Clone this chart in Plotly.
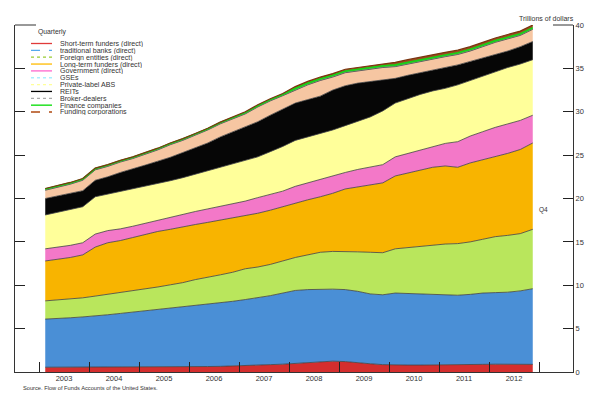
import plotly.graph_objects as go

# ---------------- data (trillions of dollars, quarterly) ----------------
quarters = [f"{y}Q{q}" for y in range(2003, 2013) for q in range(1, 5)]
year_labels = ["2003", "2004", "2005", "2006", "2007", "2008", "2009", "2010", "2011", "2012"]
y_ticks = [0, 5, 10, 15, 20, 25, 30, 35, 40]

short_term = [0.55, 0.55, 0.55, 0.55, 0.55, 0.55, 0.56, 0.57, 0.58, 0.60, 0.60, 0.60,
              0.62, 0.63, 0.65, 0.68, 0.72, 0.78, 0.85, 0.90, 1.00, 1.10, 1.20, 1.25,
              1.20, 1.05, 0.95, 0.85, 0.80, 0.80, 0.80, 0.80, 0.80, 0.82, 0.85, 0.88,
              0.90, 0.90, 0.88, 0.88]
banks = [5.55, 5.60, 5.70, 5.80, 5.90, 6.05, 6.19, 6.33, 6.52, 6.65, 6.80, 6.95,
         7.08, 7.22, 7.35, 7.47, 7.63, 7.77, 7.95, 8.20, 8.40, 8.40, 8.35, 8.30,
         8.30, 8.25, 8.05, 8.05, 8.30, 8.25, 8.20, 8.15, 8.10, 8.03, 8.10, 8.22,
         8.25, 8.30, 8.47, 8.72]
foreign = [2.10, 2.15, 2.15, 2.20, 2.30, 2.35, 2.40, 2.45, 2.50, 2.55, 2.65, 2.75,
           2.95, 3.05, 3.20, 3.35, 3.55, 3.55, 3.60, 3.70, 3.80, 4.00, 4.25, 4.35,
           4.40, 4.55, 4.80, 4.85, 5.10, 5.30, 5.50, 5.70, 5.85, 5.95, 6.05, 6.20,
           6.45, 6.55, 6.60, 6.85]
long_term = [4.60, 4.70, 4.80, 4.95, 5.65, 5.95, 6.00, 6.15, 6.25, 6.40, 6.40, 6.45,
             6.35, 6.35, 6.30, 6.30, 6.10, 6.20, 6.25, 6.25, 6.30, 6.35, 6.40, 6.70,
             7.20, 7.50, 7.80, 8.05, 8.40, 8.60, 8.80, 8.95, 9.00, 8.80, 9.10, 9.15,
             9.20, 9.45, 9.70, 9.95]
government = [1.40, 1.40, 1.40, 1.40, 1.50, 1.40, 1.35, 1.30, 1.30, 1.30, 1.40, 1.40,
              1.50, 1.55, 1.60, 1.60, 1.70, 1.80, 1.85, 1.80, 1.90, 1.95, 2.00, 2.05,
              1.90, 2.00, 2.05, 2.10, 2.20, 2.25, 2.30, 2.40, 2.60, 2.95, 3.10, 3.25,
              3.40, 3.40, 3.35, 3.20]
gses = [3.90, 4.00, 4.10, 4.15, 4.30, 4.20, 4.30, 4.30, 4.25, 4.20, 4.20, 4.25,
        4.30, 4.40, 4.50, 4.60, 4.70, 4.70, 4.90, 5.15, 5.30, 5.30, 5.30, 5.25,
        5.40, 5.55, 5.75, 6.20, 6.20, 6.30, 6.40, 6.40, 6.35, 6.55, 6.40, 6.40,
        6.40, 6.50, 6.50, 6.40]
private_abs = [1.90, 1.90, 1.90, 1.85, 1.90, 2.00, 2.20, 2.30, 2.45, 2.60, 2.70, 2.90,
               3.05, 3.20, 3.50, 3.70, 3.90, 4.05, 4.20, 4.30, 4.30, 4.30, 4.30, 4.60,
               4.60, 4.40, 4.10, 3.60, 2.85, 2.70, 2.50, 2.40, 2.40, 2.30, 2.20, 2.10,
               2.00, 1.90, 2.00, 2.10]
reits = [0.95, 1.00, 1.05, 1.20, 1.20, 1.20, 1.20, 1.20, 1.25, 1.30, 1.45, 1.40,
         1.45, 1.50, 1.50, 1.50, 1.45, 1.70, 1.65, 1.55, 1.50, 1.70, 1.80, 1.50,
         1.50, 1.40, 1.40, 1.40, 1.35, 1.30, 1.30, 1.30, 1.25, 1.20, 1.20, 1.30,
         1.40, 1.40, 1.30, 1.40]
broker = [0.05, 0.05, 0.05, 0.05, 0.05, 0.05, 0.05, 0.05, 0.05, 0.05, 0.05, 0.05,
          0.05, 0.05, 0.05, 0.05, 0.05, 0.05, 0.05, 0.05, 0.05, 0.05, 0.05, 0.05,
          0.05, 0.05, 0.05, 0.05, 0.05, 0.05, 0.05, 0.05, 0.05, 0.05, 0.05, 0.05,
          0.05, 0.05, 0.05, 0.05]
finance = [0.10, 0.10, 0.10, 0.10, 0.10, 0.10, 0.10, 0.10, 0.10, 0.10, 0.10, 0.10,
           0.10, 0.10, 0.10, 0.10, 0.10, 0.10, 0.10, 0.10, 0.15, 0.15, 0.15, 0.15,
           0.15, 0.15, 0.15, 0.15, 0.15, 0.15, 0.15, 0.15, 0.15, 0.15, 0.15, 0.15,
           0.15, 0.15, 0.15, 0.15]
funding = [0.05, 0.05, 0.05, 0.05, 0.05, 0.05, 0.05, 0.05, 0.05, 0.05, 0.05, 0.05,
           0.05, 0.05, 0.05, 0.05, 0.10, 0.10, 0.10, 0.10, 0.20, 0.20, 0.20, 0.20,
           0.20, 0.20, 0.20, 0.20, 0.30, 0.30, 0.30, 0.30, 0.30, 0.30, 0.30, 0.30,
           0.30, 0.30, 0.30, 0.30]

names = ["Short-term funders (direct)", "traditional banks (direct)", "Foreign entities (direct)",
         "Long-term funders (direct)", "Government (direct)", "GSEs", "Private-label ABS",
         "REITs", "Broker-dealers", "Finance companies", "Funding corporations"]
series = [short_term, banks, foreign, long_term, government, gses, private_abs,
          reits, broker, finance, funding]

# ---------------- styling ----------------
fill_colors = ["#d42e2e", "#4a8fd6", "#b9e65c", "#f8b400", "#f378c8", "#ffff9a",
               "#060606", "#f6c6a2", "#9a9a9a", "#1ee01e", "#9c4a1e"]
edge_colors = ["#404040"] * 8 + ["#707070", "#18d018", "#7a3510"]
edge_widths = [0.8] * 8 + [0.6, 1.6, 1.2]
leg_colors = ["#e03a3a", "#55aaee", "#99cc33", "#ffbb00", "#ff66cc", "#aaeeff",
              "#ffff99", "#000000", "#aaaaaa", "#00dd00", "#b04a10"]
leg_dash = ["solid", "dash", "dot", "solid", "solid", "dot", "dot", "solid", "dot", "solid", "dash"]

# page body adds an 8px margin; lay the figure out in reference pixel coordinates
OFF = 8
W, H = 600 - OFF, 397 - OFF
AX_L, AX_R, AX_T, AX_B = 15, 573, 25, 372          # axes box in reference pixels
L, T = AX_L - OFF, AX_T - OFF
R, B = (W + OFF) - AX_R, (H + OFF) - AX_B
PW, PH = AX_R - AX_L, AX_B - AX_T
FONT = "Liberation Sans, Arial, sans-serif"
TXT = "#333333"


def pxx(xp):
    return (xp - AX_L) / PW


def pxy(yp):
    return (AX_B - yp) / PH


x = [int(s[:4]) + (int(s[-1]) - 0.5) / 4 for s in quarters]
x_range = [2003 - 24 / 50, 2003 + 534 / 50]

fig = go.Figure()
for i, (nm, vals) in enumerate(zip(names, series)):
    fig.add_trace(go.Scatter(
        x=x, y=vals, name=nm, stackgroup="one", mode="lines",
        line=dict(color=edge_colors[i], width=edge_widths[i]),
        fillcolor=fill_colors[i], showlegend=False, hoverinfo="x+y+name"))

# helper (empty) traces so the overlay axes exist
fig.add_trace(go.Scatter(x=[], y=[], xaxis="x2", yaxis="y", showlegend=False))
fig.add_trace(go.Scatter(x=[], y=[], xaxis="x", yaxis="y2", showlegend=False))

shapes = []
annotations = []
# manual legend
for k, nm in enumerate(names):
    yp = 43.5 + 6.85 * k
    shapes.append(dict(type="line", xref="paper", yref="paper",
                       x0=pxx(31), x1=pxx(52), y0=pxy(yp), y1=pxy(yp),
                       line=dict(color=leg_colors[k], width=1.3, dash=leg_dash[k])))
    annotations.append(dict(text=nm, xref="paper", yref="paper", x=pxx(59), y=pxy(yp),
                            xanchor="left", yanchor="middle", showarrow=False,
                            height=7, borderpad=0,
                            font=dict(family=FONT, size=7.1, color=TXT)))

# longer top ticks on both vertical axes
shapes.append(dict(type="line", xref="paper", yref="paper", x0=0, x1=pxx(36), y0=1, y1=1,
                   line=dict(color="#333", width=1)))
shapes.append(dict(type="line", xref="paper", yref="paper", x0=pxx(553), x1=1, y0=1, y1=1,
                   line=dict(color="#333", width=1)))

annotations += [
    dict(text="Trillions of dollars", xref="paper", yref="paper", x=pxx(576), y=pxy(18),
         xanchor="right", yanchor="middle", showarrow=False,
         font=dict(family=FONT, size=7, color=TXT)),
    dict(text="Quarterly", xref="paper", yref="paper", x=pxx(36), y=pxy(32),
         xanchor="left", yanchor="middle", showarrow=False,
         font=dict(family=FONT, size=6.8, color=TXT)),
    dict(text="Q4", xref="paper", yref="paper", x=pxx(537), y=pxy(210),
         xanchor="left", yanchor="middle", showarrow=False,
         font=dict(family=FONT, size=6.5, color=TXT)),
    dict(text="Source. Flow of Funds Accounts of the United States.", xref="paper", yref="paper",
         x=pxx(21), y=pxy(388), xanchor="left", yanchor="middle", showarrow=False,
         font=dict(family=FONT, size=5.7, color=TXT)),
]

axis_common = dict(showgrid=False, zeroline=False, linecolor="#333333", linewidth=1,
                   tickcolor="#222222", tickwidth=1)

fig.update_layout(
    width=W, height=H, margin=dict(l=L, r=R, t=T, b=B, pad=0),
    paper_bgcolor="white", plot_bgcolor="white", showlegend=False,
    font=dict(family=FONT, size=7.5, color=TXT),
    xaxis=dict(range=x_range, tickvals=list(range(2003, 2014)), ticks="inside", ticklen=10,
               showticklabels=False, showline=True, **axis_common),
    xaxis2=dict(range=x_range, overlaying="x", anchor="y", side="bottom",
                tickvals=[int(v) + 0.5 for v in year_labels], ticktext=year_labels,
                ticks="", showline=False, showgrid=False, zeroline=False,
                tickfont=dict(family=FONT, size=7.5, color=TXT)),
    yaxis=dict(range=[0, 40], side="right", tickvals=y_ticks, ticks="inside", ticklen=10,
               showline=True, tickfont=dict(family=FONT, size=7.5, color=TXT), **axis_common),
    yaxis2=dict(range=[0, 40], overlaying="y", side="left", anchor="x", tickvals=y_ticks,
                ticks="inside", ticklen=10, showticklabels=False, showline=True, **axis_common),
    shapes=shapes, annotations=annotations,
)

fig.write_html("out.html")
